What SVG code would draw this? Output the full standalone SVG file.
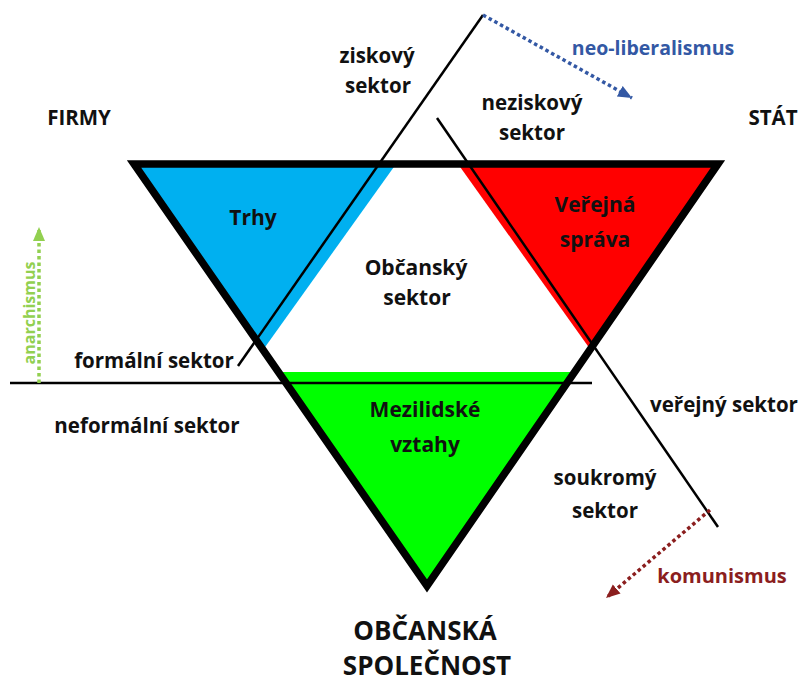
<svg xmlns="http://www.w3.org/2000/svg" width="801" height="684" viewBox="0 0 801 684">
<style>
text{font-family:"Open Sans","Liberation Sans",sans-serif;font-weight:700;text-anchor:middle;fill:#111}
.lbl{font-size:20.5px}
.in{font-size:21px}
.big{font-size:26px}
.thin{stroke:#000;stroke-width:2.5;fill:none}
.dot{fill:none;stroke-width:3.5;stroke-dasharray:3.5 3}
</style>
<defs>
<marker id="hBlue" markerUnits="userSpaceOnUse" markerWidth="16" markerHeight="14" refX="14" refY="6" orient="auto"><path d="M0,0 L14,6 L0,12 Z" fill="#3358A4"/></marker>
<marker id="hGreen" markerUnits="userSpaceOnUse" markerWidth="16" markerHeight="14" refX="14" refY="6" orient="auto"><path d="M0,0 L14,6 L0,12 Z" fill="#92D050"/></marker>
<marker id="hRed" markerUnits="userSpaceOnUse" markerWidth="16" markerHeight="14" refX="14" refY="6" orient="auto"><path d="M0,0 L14,6 L0,12 Z" fill="#8B1E1E"/></marker>
</defs>
<rect width="801" height="684" fill="#fff"/>
<g id="trhy">
<polygon points="134,164 396,164 263,350" fill="#00B0F0"/>
</g>
<g id="verejna-sprava">
<polygon points="458,164 718,164 590,349" fill="#FF0000"/>
</g>
<g id="mezilidske-vztahy">
<polygon points="278,372 575,372 427,586" fill="#00FF00"/>
</g>
<g id="triangle">
<polygon points="134,164 718,164 427,586" fill="none" stroke="#000" stroke-width="7.5" stroke-linejoin="miter"/>
</g>
<g id="connectors">
<line class="thin" x1="483" y1="15" x2="238" y2="366"/>
<line class="thin" x1="437" y1="118" x2="718" y2="527"/>
<line class="thin" x1="10" y1="383" x2="592" y2="383"/>
<line class="dot" stroke="#3358A4" x1="483" y1="15" x2="632" y2="98" marker-end="url(#hBlue)"/>
<line class="dot" stroke="#92D050" x1="39" y1="383" x2="39" y2="227" marker-end="url(#hGreen)"/>
<line class="dot" stroke="#8B1E1E" x1="710" y1="510" x2="606" y2="598" marker-end="url(#hRed)"/>
</g>
<g id="labels">
<g id="firmy"><text class="lbl" x="79" y="125">FIRMY</text></g>
<g id="stat"><text class="lbl" x="773" y="125">STÁT</text></g>
<g id="ziskovy"><text class="lbl" x="377" y="63">ziskový</text><text class="lbl" x="378" y="93">sektor</text></g>
<g id="neziskovy"><text class="lbl" x="532" y="110">neziskový</text><text class="lbl" x="532" y="140">sektor</text></g>
<g id="t-trhy"><text class="in" x="253" y="225">Trhy</text></g>
<g id="t-obcansky"><text class="in" x="416" y="275">Občanský</text><text class="in" x="417" y="305">sektor</text></g>
<g id="t-verejna"><text class="in" x="595" y="212">Veřejná</text><text class="in" x="595" y="247">správa</text></g>
<g id="t-mezilidske"><text class="in" x="425" y="417">Mezilidské</text><text class="in" x="425" y="452">vztahy</text></g>
<g id="formalni"><text class="lbl" x="154" y="368">formální sektor</text></g>
<g id="neformalni"><text class="lbl" x="147" y="433">neformální sektor</text></g>
<g id="verejny"><text class="lbl" x="724" y="412">veřejný sektor</text></g>
<g id="soukromy"><text class="lbl" x="605" y="485">soukromý</text><text class="lbl" x="605" y="518">sektor</text></g>
<g id="neoliberalismus"><text x="653" y="55" style="font-size:19.5px;fill:#3358A4">neo-liberalismus</text></g>
<g id="anarchismus"><text transform="translate(35,313) rotate(-90)" style="font-size:16px;fill:#92D050">anarchismus</text></g>
<g id="komunismus"><text x="722" y="583" style="font-size:20px;fill:#8B1E1E">komunismus</text></g>
<g id="obcanska-spolecnost"><text class="big" x="425" y="640">OBČANSKÁ</text><text class="big" x="427" y="675">SPOLEČNOST</text></g>
</g>
</svg>
